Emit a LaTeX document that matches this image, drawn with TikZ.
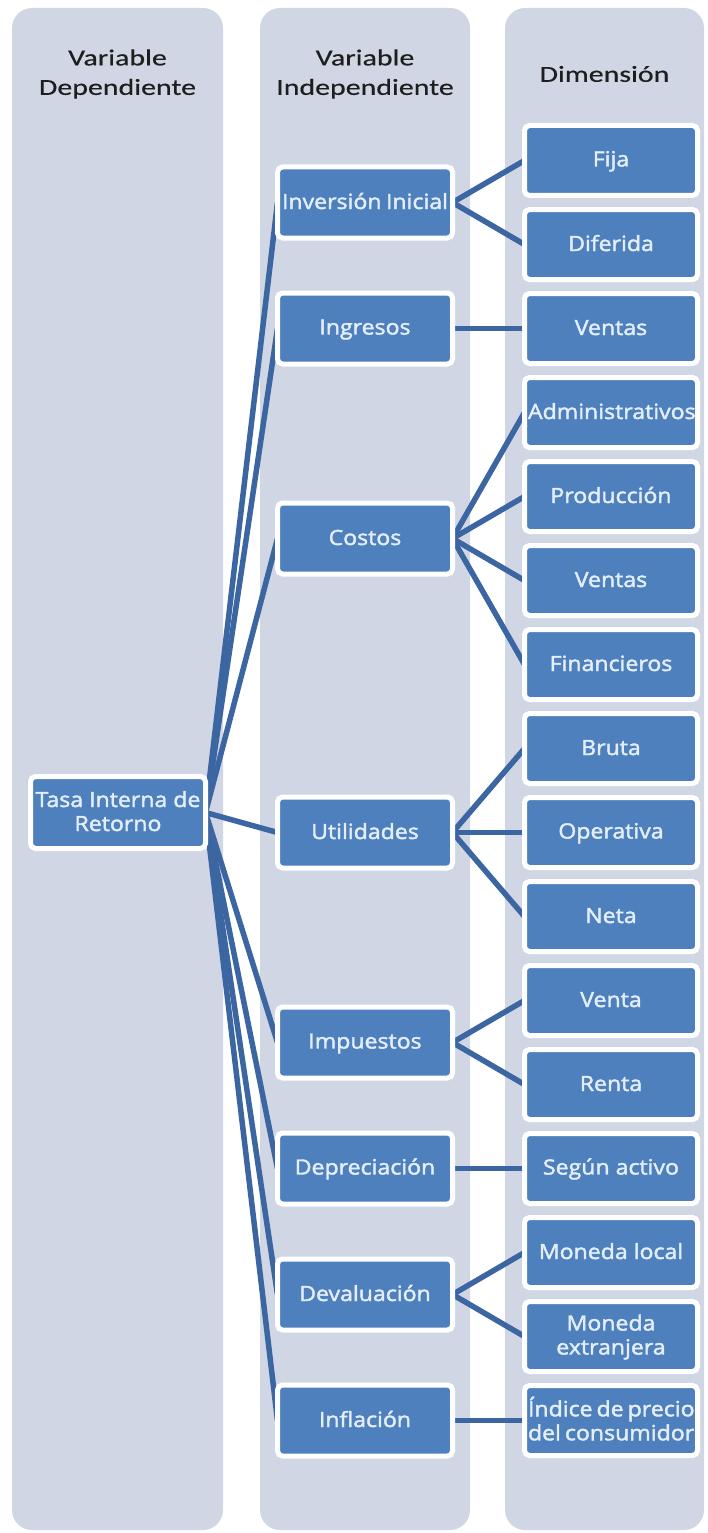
\documentclass[tikz,border=0pt]{standalone}
\usepackage{fontspec}
\newfontfamily\labelfont{Open Sans}[FakeStretch=1.1,FakeBold=2]
\newfontfamily\headfont{Carlito}[FakeStretch=1.3,FakeBold=0.4]
\definecolor{colbg}{RGB}{208,214,228}
\definecolor{boxfill}{RGB}{77,128,189}
\definecolor{linkblue}{RGB}{60,102,162}
\definecolor{labeltext}{RGB}{228,238,249}
\definecolor{headtext}{RGB}{30,30,30}
\hyphenpenalty=10000
\exhyphenpenalty=10000
% struts fixing the first baseline and the last line's depth of a card label
\newcommand\cardtop{\rule{0pt}{17pt}}
\newcommand\cardbot{\rule[-4pt]{0pt}{4pt}}
\pgfdeclarelayer{columns}
\pgfdeclarelayer{links}
\pgfsetlayers{columns,links,main}
\tikzset{
  column/.style={fill=colbg, rounded corners=20pt},
  head/.style={font=\headfont\fontsize{23}{29.5}\selectfont, text=headtext,
    align=center, inner sep=0pt},
  cardtext/.style={font=\labelfont\fontsize{21}{24}\selectfont,
    text=labeltext, align=flush center, text width=166pt, inner sep=0pt},
  card/.style={rectangle, rounded corners=5pt, fill=boxfill, draw=white,
    line width=5pt, outer sep=0pt, inner sep=0pt,
    minimum width=175pt, minimum height=71pt,
    path picture={\node[cardtext] at (path picture bounding box.center)
      {\cardtop#1\cardbot};}},
  dimcard/.style={card={#1}, minimum width=173pt, minimum height=70pt},
  link/.style={draw=linkblue, line width=5.5pt}
}
\begin{document}
\begin{tikzpicture}[x=1pt,y=-1pt]
\useasboundingbox (0,0) rectangle (707,1533);

% column panels
\begin{pgfonlayer}{columns}
  \fill[column] (12,8) rectangle (223,1530);
  \fill[column] (260,8) rectangle (470,1530);
  \fill[column] (505,8) rectangle (704,1530);
\end{pgfonlayer}

% column headings
\node[head] (hdep) at (117.5,74) {Variable\\Dependiente};
\node[head] (hind) at (365,74) {Variable\\Independiente};
\node[head] (hdim) at (604.5,74) {Dimensión};

% dependent variable
\node[card={Tasa Interna de\\Retorno}, minimum height=72pt] (tasa) at (118,812.5) {};

% independent variables
\node[card={Inversión~Inicial}] (inv) at (365,202.5) {};
\node[card={Ingresos}]          (ing) at (365,328.5) {};
\node[card={Costos}]            (cos) at (365,538.5) {};
\node[card={Utilidades}]        (uti) at (365,832.5) {};
\node[card={Impuestos}]         (imp) at (365,1042.5) {};
\node[card={Depreciación}]      (dep) at (365,1168.5) {};
\node[card={Devaluación}]       (dev) at (365,1294.5) {};
\node[card={Inflación}]         (inf) at (365,1420.5) {};

% dimensions
\node[dimcard={Fija}]             (fija)  at (611,160.5) {};
\node[dimcard={Diferida}]         (dif)   at (611,244.5) {};
\node[dimcard={Ventas}]           (vta1)  at (611,328.5) {};
\node[dimcard={Administrativos}]  (adm)   at (611,412.5) {};
\node[dimcard={Producción}]       (prod)  at (611,496.5) {};
\node[dimcard={Ventas}]           (vta2)  at (611,580.5) {};
\node[dimcard={Financieros}]      (fin)   at (611,664.5) {};
\node[dimcard={Bruta}]            (bru)   at (611,748.5) {};
\node[dimcard={Operativa}]        (ope)   at (611,832.5) {};
\node[dimcard={Neta}]             (neta)  at (611,916.5) {};
\node[dimcard={Venta}]            (vta3)  at (611,1000.5) {};
\node[dimcard={Renta}]            (ren)   at (611,1084.5) {};
\node[dimcard={Según~activo}]     (seg)   at (611,1168.5) {};
\node[dimcard={Moneda~local}]     (mloc)  at (611,1252.5) {};
\node[dimcard={Moneda\\extranjera}] (mext) at (611,1336.5) {};
\node[dimcard={Índice~de~precio\\del~consumidor}] (ipc) at (611,1420.5) {};

% connectors
\begin{pgfonlayer}{links}
  \foreach \v in {inv,ing,cos,uti,imp,dep,dev,inf}
    \draw[link] (tasa.east) -- (\v.west);
  \foreach \a/\b in {inv/fija,inv/dif,ing/vta1,cos/adm,cos/prod,cos/vta2,cos/fin,
                     uti/bru,uti/ope,uti/neta,imp/vta3,imp/ren,dep/seg,
                     dev/mloc,dev/mext,inf/ipc}
    \draw[link] (\a.east) -- (\b.west);
\end{pgfonlayer}
\end{tikzpicture}
\end{document}
